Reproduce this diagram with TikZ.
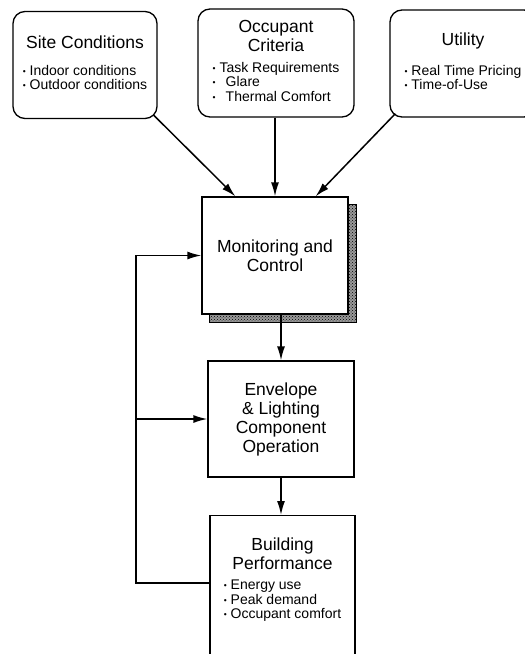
\documentclass[tikz,border=0pt]{standalone}
\usepackage{fontspec}
\setmainfont{Liberation Sans}
\usetikzlibrary{arrows.meta,patterns,backgrounds,positioning}

\newcommand\headfont{\fontsize{17.5}{19}\selectfont}
\newcommand\listfont{\fontsize{14}{14.2}\selectfont}
\newcommand\bul{\raisebox{1pt}{\fontsize{8.5}{8.5}\selectfont\textbullet}\ }

\tikzset{
  topbox/.style={draw, line width=1.3pt, rounded corners=12pt, inner sep=0pt, align=center, font=\headfont},
  blockbox/.style={draw, fill=white, line width=1.3pt, inner sep=0pt, minimum width=146pt, align=center, font=\headfont},
  flow/.style={line width=1.5pt, -{Latex[length=14pt,width=8pt]}},
}

\begin{document}
\begin{tikzpicture}[x=1pt,y=-1pt]
% page
\clip (0,0) rectangle (525,654);
\useasboundingbox (0,0) rectangle (525,654);
% inputs
\node[topbox, minimum width=144pt, minimum height=107pt] (site) at (85,65)
  {Site Conditions\\[8pt]{\listfont\begin{tabular}[t]{@{}l@{}}\bul Indoor conditions\\ \bul Outdoor conditions\end{tabular}}};
\node[topbox, minimum width=156pt, minimum height=108pt] (occ) at (276,63)
  {Occupant\\ Criteria\\[2pt]{\listfont\begin{tabular}[t]{@{}l@{}}\bul Task Requirements\\ \bul\, Glare\\ \bul\, Thermal Comfort\end{tabular}}};
\node[topbox, minimum width=146pt, minimum height=107pt] (util) at (463,63.5)
  {Utility\\[11pt]{\listfont\begin{tabular}[t]{@{}l@{}}\bul Real Time Pricing\\ \bul Time-of-Use\end{tabular}}};
% main blocks
\node[blockbox, minimum height=117pt] (mon) at (275,255.5) {Monitoring and\\ Control};
\node[blockbox, minimum height=116pt] (env) at (281,419) {Envelope\\ \& Lighting\\ Component\\ Operation};
\node[blockbox, minimum width=145pt, minimum height=170pt, anchor=north] (bld) at (282.5,515) {};
\node[below=23pt of bld.north, inner sep=0pt, align=center, font=\headfont] (bldtext)
  {Building\\ Performance\\[1pt]{\listfont\begin{tabular}[t]{@{}l@{}}\bul Energy use\\ \bul Peak demand\\ \bul Occupant comfort\end{tabular}}};
% shadow
\begin{scope}[on background layer]
\fill[black!40] ([shift={(8pt,-8pt)}]mon.north west) rectangle ([shift={(8pt,-8pt)}]mon.south east);
\filldraw[line width=1pt, pattern=crosshatch dots, pattern color=black]
  ([shift={(8pt,-8pt)}]mon.north west) rectangle ([shift={(8pt,-8pt)}]mon.south east);
\end{scope}
% inputs to control
\draw[flow] ([shift={(-4pt,4pt)}]site.south east) -- ([xshift=34pt]mon.north west);
\draw[flow] (occ.south -| mon.north) -- (mon.north);
\draw[flow] ([shift={(6pt,4pt)}]util.south west) -- ([xshift=-33pt]mon.north east);
% chain
\draw[flow] (mon.south -| env.north) -- (env.north);
\draw[flow] (env.south) -- (env.south |- bld.north);
% feedback
\coordinate (fb) at (136,583);
\draw[flow] (bld.west |- fb) -- (fb) |- (mon.west);
\draw[flow] (fb |- env.west) -- (env.west);
\end{tikzpicture}
\end{document}
